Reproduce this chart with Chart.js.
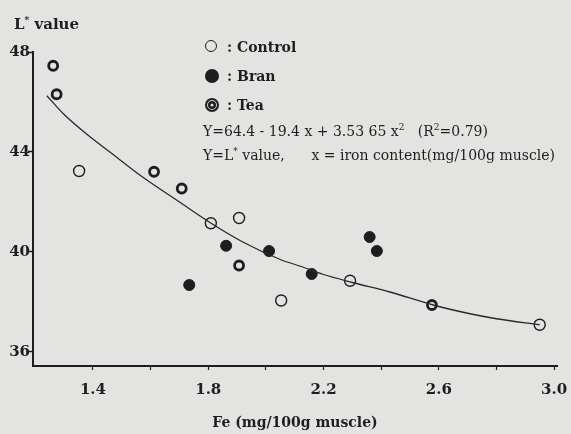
<!DOCTYPE html>
<html>
<head>
<meta charset="utf-8">
<script src="https://cdn.jsdelivr.net/npm/chart.js@4/dist/chart.umd.min.js"></script>
<style>
html,body{margin:0;padding:0;background:#e3e3e1;}
#wrap{position:relative;width:571px;height:434px;}
#chart{position:absolute;left:0;top:0;}
.txt{position:absolute;font-family:"DejaVu Serif",serif;color:#1e1e1e;white-space:pre;line-height:1;}
.sym{position:absolute;width:10px;height:10px;border-radius:50%;box-sizing:content-box;}
</style>
</head>
<body>
<div id="wrap">
<canvas id="chart" width="571" height="434"></canvas>
<div class="txt" style="left:14px;top:16px;font-size:15px;font-weight:bold;">L<sup style="font-size:9px;">*</sup> value</div>
<span class="sym" style="left:205px;top:40px;border:1.5px solid #1e1e1e;"></span>
<div class="txt" style="left:227px;top:40px;font-size:14px;font-weight:bold;">: Control</div>
<span class="sym" style="left:205px;top:69px;border:2px solid #1e1e1e;background:#1e1e1e;"></span>
<div class="txt" style="left:227px;top:69px;font-size:14px;font-weight:bold;">: Bran</div>
<span class="sym" style="left:205px;top:98px;border:2px solid #1e1e1e;box-shadow:inset 0 0 0 1px #e3e3e1,inset 0 0 0 3.5px #1e1e1e;"></span>
<div class="txt" style="left:227px;top:98px;font-size:14px;font-weight:bold;">: Tea</div>
<div class="txt" style="left:203px;top:123px;font-size:14px;">Y=64.4 - 19.4 x + 3.53 65 x<sup style="font-size:9px;">2</sup>   (R<sup style="font-size:9px;">2</sup>=0.79)</div>
<div class="txt" style="left:203px;top:147px;font-size:14px;">Y=L<sup style="font-size:9px;">*</sup> value,      x = iron content(mg/100g muscle)</div>
</div>
<script>
// iron content (x) and L* value (y)
const controlX=[1.352,1.809,1.907,2.053,2.292,2.95];
const controlY=[43.24,41.15,41.36,38.06,38.85,37.09];
const branX=[1.734,1.862,2.011,2.159,2.36,2.385];
const branY=[38.68,40.25,40.04,39.12,40.6,40.04];
const teaX=[1.262,1.274,1.612,1.708,1.907,2.576];
const teaY=[47.45,46.31,43.21,42.54,39.46,37.88];

// fitted curve as drawn
const fitX=[1.24,1.30,1.38,1.47,1.56,1.70,1.81,1.92,2.05,2.12,2.20,2.30,2.43,2.58,2.70,2.80,2.95];
const fitY=[46.25,45.5,44.7,43.9,43.1,42.0,41.15,40.4,39.7,39.43,39.1,38.78,38.4,37.88,37.55,37.33,37.09];

const xTicks=[1.4,1.6,1.8,2.0,2.2,2.4,2.6,2.8,3.0];
const xLabels=[1.4,1.8,2.2,2.6,3.0];
const yTicks=[36,40,44,48];

const ink="#1e1e1e";
const bg="#e3e3e1";

function pts(xs,ys){
return xs.map((x,i)=>({x:x,y:ys[i]}));
}

new Chart(document.getElementById("chart"),{
type:"scatter",
data:{
datasets:[
{
label:"fit",
type:"line",
data:pts(fitX,fitY),
borderColor:"#2a2a2a",
borderWidth:1.3,
pointRadius:0,
tension:0.4,
cubicInterpolationMode:"monotone",
fill:false
},
{
label:"Control",
data:pts(controlX,controlY),
pointRadius:5.5,
pointBorderWidth:1.4,
pointBorderColor:ink,
pointBackgroundColor:bg
},
{
label:"Bran",
data:pts(branX,branY),
pointRadius:5.5,
pointBorderWidth:1,
pointBorderColor:ink,
pointBackgroundColor:ink
},
{
label:"Tea",
data:pts(teaX,teaY),
pointRadius:4.5,
pointBorderWidth:2.8,
pointBorderColor:ink,
pointBackgroundColor:bg
}
]
},
options:{
responsive:false,
animation:false,
layout:{padding:{top:52,right:14,bottom:0,left:0}},
plugins:{
legend:{display:false},
tooltip:{enabled:false}
},
scales:{
x:{
type:"linear",
min:1.192,
max:3.01,
afterBuildTicks:s=>{s.ticks=xTicks.map(v=>({value:v}));},
afterFit:s=>{s.height=68;s.paddingLeft=0;s.paddingRight=0;},
grid:{drawOnChartArea:false,tickLength:4,tickColor:ink,tickWidth:1.2},
border:{color:ink,width:2},
ticks:{
color:ink,
padding:11,
maxRotation:0,
autoSkip:false,
font:{family:"DejaVu Serif",size:15,weight:"bold"},
callback:v=>xLabels.some(l=>Math.abs(l-v)<1e-6)?v.toFixed(1):""
},
title:{
display:true,
text:"Fe (mg/100g muscle)",
color:ink,
font:{family:"DejaVu Serif",size:14,weight:"bold"},
padding:{top:0,bottom:2}
}
},
y:{
type:"linear",
min:35.44,
max:48,
afterBuildTicks:s=>{s.ticks=yTicks.map(v=>({value:v}));},
afterFit:s=>{s.width=33;},
grid:{drawOnChartArea:false,tickLength:5,tickColor:ink,tickWidth:1.5},
border:{color:ink,width:2},
ticks:{
color:ink,
padding:-2,
font:{family:"DejaVu Serif",size:15,weight:"bold"}
}
}
}
}
});
</script>
</body>
</html>
